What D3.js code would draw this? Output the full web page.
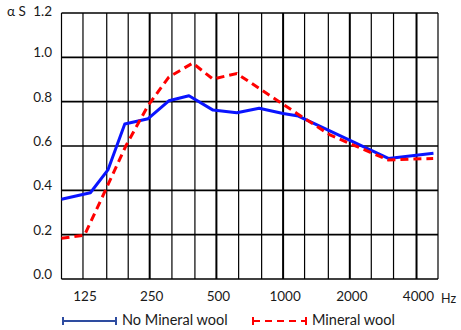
<!DOCTYPE html>
<html><head><meta charset="utf-8">
<script src="https://cdn.jsdelivr.net/npm/d3@7"></script>
<style>body{margin:0;background:#fff}svg{display:block}text{font-family:Lato,"Open Sans",sans-serif;fill:#1a1a1a}</style>
</head><body>
<svg id="c" width="461" height="330"></svg>
<script>
// Third-octave grid bands (Hz)
const gridFreqs = [100,125,160,200,250,315,400,500,630,800,1000,1250,1600,2000,2500,3150,4000,5000];
const octaveFreqs = [250,500,1000,2000,4000];
const xTickLabels = [125,250,500,1000,2000,4000];
const yTicks = [0,0.2,0.4,0.6,0.8,1.0,1.2];
// Series (frequency Hz, absorption coefficient)
const noWoolFreq = [100,135,162,193,246,305,376,483,618,780,1000,1172,2985,4770];
const noWoolVal  = [0.36,0.389,0.492,0.699,0.723,0.804,0.827,0.762,0.75,0.77,0.747,0.735,0.544,0.567];
const woolFreq = [100,127,158,195,245,305,391,482,618,1154,1628,2977,4755];
const woolVal  = [0.184,0.198,0.401,0.60,0.78,0.911,0.974,0.902,0.927,0.747,0.65,0.537,0.544];
const seriesNames = ["No Mineral wool","Mineral wool"];

const svg = d3.select("#c");
const L=61.5, R=438, T=13, B=279;
const x = d3.scaleLog().domain([100,5000]).range([L,R]);
const y = d3.scaleLinear().domain([0,1.2]).range([B,T]);

// vertical grid
svg.append("g").selectAll("line").data(gridFreqs).join("line")
  .attr("x1",d=>x(d)).attr("x2",d=>x(d)).attr("y1",T).attr("y2",B)
  .attr("stroke","#000")
  .attr("stroke-width",d=>octaveFreqs.includes(d)?2:1.2);
// horizontal grid
svg.append("g").selectAll("line").data(yTicks).join("line")
  .attr("x1",L).attr("x2",R).attr("y1",d=>y(d)).attr("y2",d=>y(d))
  .attr("stroke","#000").attr("stroke-width",1.6);

// y labels
svg.append("g").selectAll("text").data(yTicks).join("text")
  .attr("x",52).attr("y",d=>d===1.2?y(d):y(d)-3.5)
  .attr("text-anchor","end").attr("dominant-baseline","middle")
  .attr("font-size",13.5).text(d=>d.toFixed(1));
svg.append("text").attr("x",7).attr("y",13).attr("dominant-baseline","middle")
  .attr("font-size",13.5).text("α S");

// x labels
svg.append("g").selectAll("text").data(xTickLabels).join("text")
  .attr("x",d=>x(d)+2).attr("y",298).attr("text-anchor","middle")
  .attr("dominant-baseline","middle").attr("font-size",13.5).text(d=>d);
svg.append("text").attr("x",441).attr("y",300).attr("dominant-baseline","middle")
  .attr("font-size",12.5).attr("fill","#333").text("Hz");

const line = d3.line().x(d=>x(d[0])).y(d=>y(d[1]));
svg.append("path").datum(noWoolFreq.map((f,i)=>[f,noWoolVal[i]]))
  .attr("d",line).attr("fill","none").attr("stroke","#0a14ff").attr("stroke-width",3)
  .attr("stroke-linejoin","round");
svg.append("path").datum(woolFreq.map((f,i)=>[f,woolVal[i]]))
  .attr("d",line).attr("fill","none").attr("stroke","#ff0000").attr("stroke-width",3)
  .attr("stroke-dasharray","8,5");

// legend
const ly = 321;
function legendItem(x0,x1,color,dash,label){
  const g = svg.append("g");
  g.append("line").attr("x1",x0).attr("x2",x1).attr("y1",ly).attr("y2",ly)
    .attr("stroke",color).attr("stroke-width",2).attr("stroke-dasharray",dash);
  [x0,x1].forEach(xx=>g.append("line").attr("x1",xx).attr("x2",xx).attr("y1",ly-4).attr("y2",ly+4)
    .attr("stroke",color).attr("stroke-width",2));
  g.append("text").attr("x",x1+6).attr("y",ly).attr("dominant-baseline","middle")
    .attr("font-size",14.5).text(label);
}
legendItem(63,116,"#2e4ca0",null,seriesNames[0]);
legendItem(253,306,"#ff0000","7,5",seriesNames[1]);
</script>
</body></html>
